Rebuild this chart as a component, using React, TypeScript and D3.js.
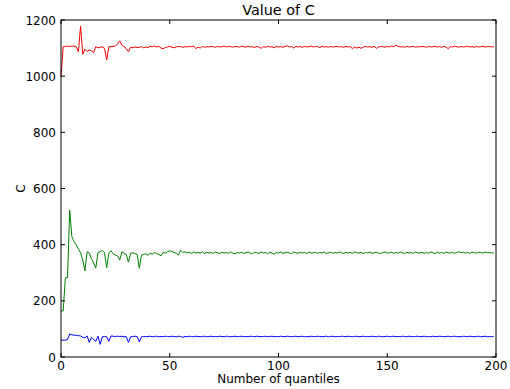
import React from "react";
import * as d3 from "d3";

const title = "Value of C";
const xLabel = "Number of quantiles";
const yLabel = "C";
const xTicks = [0, 50, 100, 150, 200];
const yTicks = [0, 200, 400, 600, 800, 1000, 1200];

const redValues = [
  1000, 1105, 1106, 1107, 1106, 1107, 1107, 1105, 1087, 1178,
  1078, 1096, 1088, 1093, 1090, 1084, 1105, 1101, 1102, 1105,
  1099, 1058, 1105, 1105, 1106, 1108, 1114, 1126, 1110, 1105,
  1098, 1087, 1103, 1101, 1104, 1102, 1103, 1105, 1101, 1104,
  1102, 1106, 1105, 1107, 1104, 1106, 1100, 1098, 1102, 1104,
  1106, 1103, 1101, 1104, 1106, 1105, 1103, 1105, 1104, 1106,
  1105, 1107, 1098, 1104, 1100, 1106, 1103, 1105, 1104, 1106,
  1105, 1103, 1106, 1104, 1105, 1107, 1104, 1106, 1105, 1103,
  1106, 1105, 1104, 1106, 1105, 1103, 1107, 1104, 1105, 1102,
  1106, 1104, 1099, 1105, 1103, 1106, 1104, 1105, 1101, 1106,
  1104, 1105, 1103, 1106, 1108, 1104, 1105, 1100, 1106, 1104,
  1105, 1103, 1106, 1104, 1105, 1107, 1104, 1106, 1105, 1102,
  1106, 1104, 1105, 1103, 1106, 1104, 1105, 1106, 1104, 1105,
  1103, 1106, 1104, 1105, 1098, 1104, 1100, 1103, 1099, 1104,
  1106, 1104, 1105, 1103, 1106, 1099, 1104, 1106, 1105, 1103,
  1106, 1104, 1107, 1105, 1110, 1106, 1104, 1105, 1103, 1106,
  1104, 1105, 1106, 1103, 1105, 1104, 1106, 1105, 1103, 1106,
  1104, 1105, 1106, 1104, 1105, 1103, 1106, 1104, 1098, 1105,
  1104, 1106, 1105, 1103, 1106, 1104, 1105, 1106, 1104, 1105,
  1103, 1106, 1104, 1105, 1106, 1104, 1105, 1106, 1104, 1105,
];

const greenValues = [
  164, 164, 282, 283, 523, 428, 411, 399, 385, 371,
  345, 307, 375, 370, 350, 335, 317, 372, 375, 379,
  372, 318, 370, 378, 368, 363, 360, 345, 375, 369,
  365, 338, 369, 371, 368, 366, 316, 363, 365, 368,
  362, 370, 366, 372, 368, 365, 360, 373, 370, 375,
  378, 376, 372, 370, 363, 380, 372, 375, 371, 373,
  369, 374, 370, 372, 370, 375, 368, 373, 370, 372,
  369, 374, 371, 368, 373, 370, 372, 369, 374, 370,
  367, 372, 370, 373, 369, 371, 374, 370, 368, 373,
  371, 369, 374, 370, 372, 368, 373, 370, 366, 372,
  370, 374, 369, 371, 373, 370, 368, 374, 371, 369,
  373, 370, 372, 368, 374, 370, 371, 373, 369, 372,
  370, 374, 368, 371, 373, 369, 372, 370, 374, 371,
  368, 373, 370, 372, 369, 374, 371, 370, 373, 368,
  372, 370, 374, 369, 371, 373, 370, 368, 372, 374,
  370, 371, 373, 369, 372, 370, 374, 371, 368, 373,
  370, 372, 369, 374, 371, 370, 373, 369, 372, 370,
  374, 371, 368, 373, 370, 372, 369, 374, 371, 370,
  373, 369, 372, 375, 371, 373, 370, 372, 369, 374,
  371, 370, 373, 372, 370, 374, 371, 372, 370, 371,
];

const blueValues = [
  60, 60, 60, 62, 82, 79, 78, 77, 76, 75,
  70, 68, 75, 52, 70, 62, 56, 74, 45, 72,
  73, 72, 56, 75, 74, 73, 74, 73, 74, 72,
  73, 52, 72, 73, 74, 73, 54, 72, 73, 72,
  73, 74, 72, 73, 74, 72, 73, 72, 74, 73,
  72, 74, 73, 72, 74, 73, 70, 73, 72, 74,
  73, 72, 74, 73, 72, 73, 74, 72, 73, 74,
  72, 73, 72, 74, 73, 72, 74, 73, 72, 73,
  74, 72, 73, 74, 72, 73, 72, 74, 73, 72,
  74, 73, 72, 73, 74, 72, 73, 74, 72, 73,
  72, 74, 73, 72, 74, 73, 72, 73, 74, 72,
  73, 74, 72, 73, 72, 74, 73, 72, 74, 73,
  72, 73, 74, 72, 73, 74, 72, 73, 72, 74,
  73, 72, 74, 73, 72, 73, 74, 72, 73, 74,
  72, 73, 72, 74, 73, 72, 74, 73, 72, 73,
  74, 72, 73, 74, 72, 73, 72, 74, 73, 72,
  74, 73, 72, 73, 74, 72, 73, 74, 72, 73,
  72, 74, 73, 72, 74, 73, 72, 73, 74, 72,
  73, 74, 72, 73, 72, 74, 73, 72, 74, 73,
  72, 73, 74, 72, 73, 74, 72, 73, 72, 74,
];

const seriesList = [
  { values: redValues, color: "#ff0000" },
  { values: greenValues, color: "#008000" },
  { values: blueValues, color: "#0000ff" },
];

const W = 510;
const H = 389;
const M = { left: 61, right: 14, top: 20, bottom: 32 };

export default function App() {
  const x = d3.scaleLinear().domain([0, 200]).range([M.left, W - M.right]);
  const y = d3.scaleLinear().domain([0, 1200]).range([H - M.bottom, M.top]);
  const line = d3
    .line<number>()
    .x((_, i) => x(i))
    .y((d) => y(d));
  const x0 = M.left;
  const x1 = W - M.right;
  const y0 = H - M.bottom;
  const y1 = M.top;
  const font = "'DejaVu Sans', sans-serif";
  return (
    <svg
      width={W}
      height={H}
      style={{ position: "absolute", left: 0, top: 0, background: "#fff" }}
      fontFamily={font}
    >
      <rect x={0} y={0} width={W} height={H} fill="#fff" />
      <g>
        {seriesList.map((s, k) => (
          <path key={k} d={line(s.values) || ""} fill="none" stroke={s.color} strokeWidth={1} />
        ))}
      </g>
      <rect x={x0} y={y1} width={x1 - x0} height={y0 - y1} fill="none" stroke="#000" strokeWidth={1} />
      {xTicks.map((t) => (
        <g key={"x" + t}>
          <line x1={x(t)} x2={x(t)} y1={y0} y2={y0 - 4} stroke="#000" />
          <line x1={x(t)} x2={x(t)} y1={y1} y2={y1 + 4} stroke="#000" />
          <text x={x(t)} y={y0 + 13} textAnchor="middle" fontSize={12} fill="#000">
            {t}
          </text>
        </g>
      ))}
      {yTicks.map((t) => (
        <g key={"y" + t}>
          <line x1={x0} x2={x0 + 4} y1={y(t)} y2={y(t)} stroke="#000" />
          <line x1={x1} x2={x1 - 4} y1={y(t)} y2={y(t)} stroke="#000" />
          <text x={x0 - 5} y={y(t) + 4.5} textAnchor="end" fontSize={12} fill="#000">
            {t}
          </text>
        </g>
      ))}
      <text x={(x0 + x1) / 2} y={15} textAnchor="middle" fontSize={14.4} fill="#000">
        {title}
      </text>
      <text x={(x0 + x1) / 2} y={383} textAnchor="middle" fontSize={12} fill="#000">
        {xLabel}
      </text>
      <text
        transform={`translate(25, ${(y0 + y1) / 2}) rotate(-90)`}
        textAnchor="middle"
        fontSize={12}
        fill="#000"
      >
        {yLabel}
      </text>
    </svg>
  );
}
